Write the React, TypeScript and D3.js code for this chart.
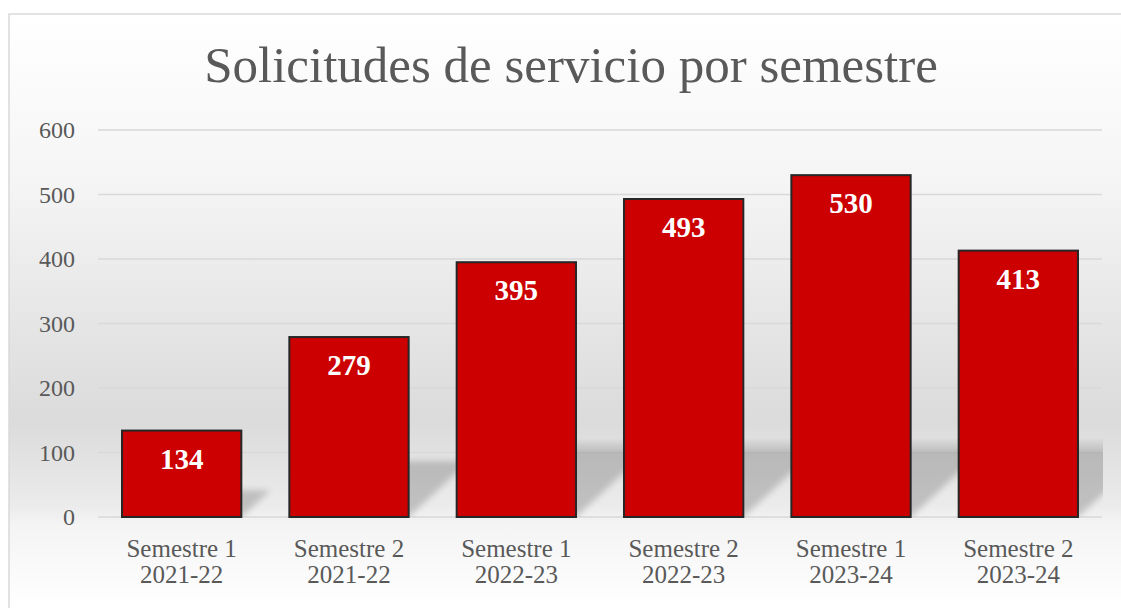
import React from "react";
import * as d3 from "d3";

const categories = [
  ["Semestre 1", "2021-22"],
  ["Semestre 2", "2021-22"],
  ["Semestre 1", "2022-23"],
  ["Semestre 2", "2022-23"],
  ["Semestre 1", "2023-24"],
  ["Semestre 2", "2023-24"],
];
const values = [134, 279, 395, 493, 530, 413];
const yTicks = [0, 100, 200, 300, 400, 500, 600];
const title = "Solicitudes de servicio por semestre";

const W = 1121;
const H = 608;
const FONT = "'Liberation Serif', 'Times New Roman', serif";

export default function App() {
  const keys = categories.map((c) => c.join(" "));
  const x = d3.scaleBand<string>().domain(keys).range([98, 1102]).paddingInner(0.287).paddingOuter(0.1435);
  const y = d3.scaleLinear().domain([0, 600]).range([517, 130]);
  const y0 = y(0);

  return (
    <svg width={W} height={H} style={{ position: "absolute", left: 0, top: 0 }}>
      <defs>
        <linearGradient id="bg" x1="0" y1="0" x2="0" y2={H} gradientUnits="userSpaceOnUse">
          <stop offset={14 / H} stopColor="#ffffff" />
          <stop offset={180 / H} stopColor="#f5f5f5" />
          <stop offset={420 / H} stopColor="#dbdbdb" />
          <stop offset={505 / H} stopColor="#ebebeb" />
          <stop offset={525 / H} stopColor="#f4f4f4" />
          <stop offset={1} stopColor="#ffffff" />
        </linearGradient>
        <linearGradient id="fade" x1="0" y1="0" x2="0" y2={H} gradientUnits="userSpaceOnUse">
          <stop offset={438 / H} stopColor="#fff" stopOpacity={0} />
          <stop offset={454 / H} stopColor="#fff" stopOpacity={1} />
          <stop offset={1} stopColor="#fff" stopOpacity={1} />
        </linearGradient>
        <mask id="shadowMask" maskUnits="userSpaceOnUse" x="0" y="0" width={W} height={H}>
          <rect x={0} y={0} width={1103} height={y0} fill="url(#fade)" />
        </mask>
        <filter id="blur" x="-20%" y="-20%" width="140%" height="140%">
          <feGaussianBlur stdDeviation="3" />
        </filter>
      </defs>
      <rect x={0} y={0} width={W} height={H} fill="#ffffff" />
      <rect x={9} y={14} width={W} height={H} fill="url(#bg)" stroke="#d9d9d9" strokeWidth={1.5} />

      <text x={571} y={82} textAnchor="middle" fontFamily={FONT} fontSize={51} fill="#595959">
        {title}
      </text>

      {yTicks.map((t) => (
        <g key={t}>
          <line x1={98} x2={1102} y1={y(t)} y2={y(t)} stroke="#d9d9d9" strokeWidth={1.5} />
          <text x={75} y={y(t) + 8} textAnchor="end" fontFamily={FONT} fontSize={24} fill="#595959">
            {t}
          </text>
        </g>
      ))}

      <g mask="url(#shadowMask)">
        {values.map((v, i) => {
          const x0 = x(keys[i])!;
          const x1 = x0 + x.bandwidth();
          const h = y0 - y(v);
          const d = h * 0.31;
          const s = d * 1.08;
          const pts = [
            [x0, y0],
            [x1, y0],
            [x1 + s, y0 - d],
            [x0 + s, y0 - d],
          ];
          return (
            <polygon
              key={i}
              points={pts.map((p) => p.join(",")).join(" ")}
              fill="#000"
              opacity={0.18}
              filter="url(#blur)"
            />
          );
        })}
      </g>

      {values.map((v, i) => {
        const x0 = x(keys[i])!;
        return (
          <g key={i}>
            <rect
              x={x0}
              y={y(v)}
              width={x.bandwidth()}
              height={y0 - y(v)}
              fill="#cc0000"
              stroke="#262626"
              strokeWidth={2}
            />
            <text
              x={x0 + x.bandwidth() / 2}
              y={y(v) + 38}
              textAnchor="middle"
              fontFamily={FONT}
              fontWeight="bold"
              fontSize={29}
              fill="#ffffff"
            >
              {v}
            </text>
          </g>
        );
      })}

      {categories.map((c, i) => {
        const cx = x(keys[i])! + x.bandwidth() / 2;
        return (
          <text key={i} x={cx} textAnchor="middle" fontFamily={FONT} fontSize={25} fill="#595959">
            <tspan x={cx} y={557}>{c[0]}</tspan>
            <tspan x={cx} y={583}>{c[1]}</tspan>
          </text>
        );
      })}
    </svg>
  );
}
